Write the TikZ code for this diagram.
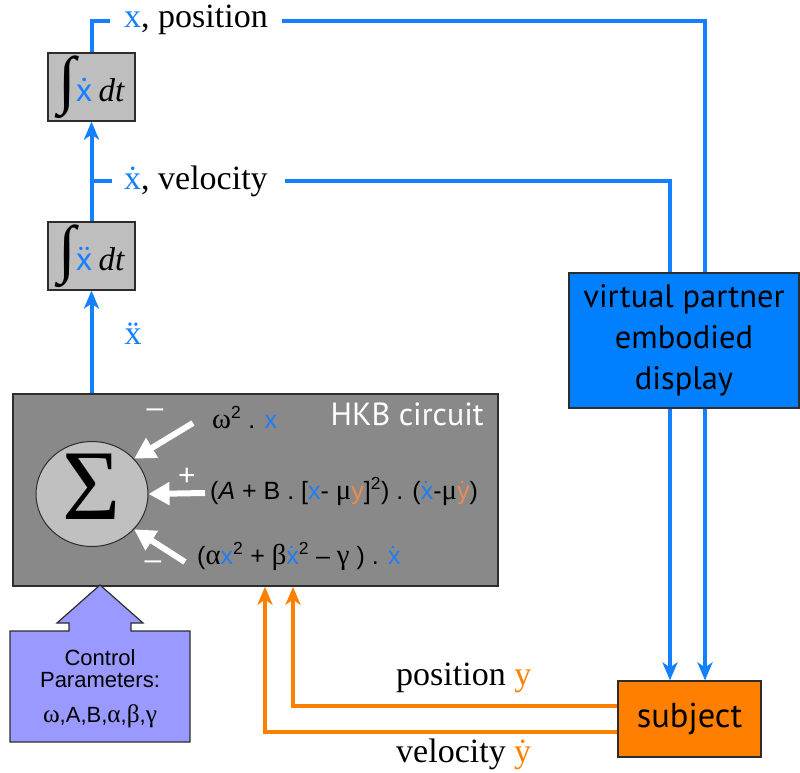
\documentclass[tikz,border=0pt]{standalone}
\usepackage{fontspec}
\setmainfont{Liberation Serif}
\newfontfamily\myriadlike{PT Sans}
\newfontfamily\arialike{Liberation Sans}
\usetikzlibrary{arrows.meta,shapes.geometric}

\definecolor{flowblue}{RGB}{20,128,255}
\definecolor{vpblue}{RGB}{0,128,255}
\definecolor{flowor}{RGB}{255,128,0}
\definecolor{yor}{RGB}{236,140,80}
\definecolor{xblue}{RGB}{30,125,245}
\definecolor{hkbgray}{RGB}{137,137,137}
\definecolor{intgray}{RGB}{190,190,190}
\definecolor{sumgray}{RGB}{192,192,192}
\definecolor{ctrlblue}{RGB}{153,153,255}
\definecolor{edgegray}{RGB}{45,45,45}

% letters with a dot / two dots on top
\newcommand\overdot[1]{\ooalign{#1\cr\hidewidth˙\hidewidth\cr}}
\newcommand\overddot[1]{\ooalign{#1\cr\hidewidth¨\hidewidth\cr}}
% Greek letters in a slightly larger serif face
\newcommand\gk[1]{{\rmfamily\scalebox{1.15}{#1}}}
\newcommand\intsym{{\fontsize{64}{64}\selectfont ∫}}

\tikzset{
  flow/.style={draw=flowblue, line width=4pt},
  flowarrow/.style={flow, -{Stealth[length=18pt,width=15pt,inset=5pt]}},
  oflow/.style={draw=flowor, line width=4pt, -{Stealth[length=18pt,width=15pt,inset=5pt]}},
  whitearrow/.style={draw=white, line width=6pt, -{Triangle[length=21pt,width=22pt]}},
  intbox/.style={draw=edgegray, fill=intgray, line width=1.2pt,
    minimum width=87pt, minimum height=68pt, inner sep=0pt,
    font=\fontsize{33}{33}\selectfont},
  serifl/.style={anchor=base west, inner sep=0pt, font=\fontsize{34}{34}\selectfont},
  exprt/.style={anchor=base west, inner sep=0pt, font=\arialike\fontsize{25}{25}\selectfont},
  signt/.style={inner sep=0pt, text=white, font=\arialike\fontsize{30}{30}\selectfont},
  ctrlt/.style={anchor=base, inner sep=0pt, font=\arialike\fontsize{22}{22}\selectfont},
}

\begin{document}
\begin{tikzpicture}[x=1pt,y=-1pt]
\useasboundingbox (0,0) rectangle (800,773);

% integrators
\node[intbox] (int1) at (91.5,87) {\intsym\textcolor{flowblue}{\myriadlike\overdot{x}}\hspace{6pt}\textit{dt}};
\node[intbox] (int2) at (91.5,256) {\intsym\textcolor{flowblue}{\myriadlike\overddot{x}}\hspace{6pt}\textit{dt}};

% HKB circuit
\node[draw=edgegray, fill=hkbgray, line width=1.5pt, minimum width=485pt,
      minimum height=192pt, inner sep=0pt] (hkb) at (255.5,490) {};
\node[anchor=base east, inner sep=0pt, text=white,
      font=\myriadlike\fontsize{32}{32}\selectfont] (hkblbl) at (484,425) {HKB circuit};
\node[ellipse, draw=edgegray, fill=sumgray, line width=1pt, minimum width=112pt,
      minimum height=105pt, inner sep=0pt] (sum) at (92,494) {};
\node[inner sep=0pt, font=\rmfamily\fontsize{100}{100}\selectfont] (sumlbl) at (92,487) {Σ};

\node[exprt] (e1) at (212,428) {\gk{ω}\textsuperscript{2} . \textcolor{xblue}{x}};
\node[exprt] (e2) at (210,499) {(\textit{A} + B . [\textcolor{xblue}{x}- \gk{μ}\textcolor{yor}{y}]\textsuperscript{2}) . (\textcolor{xblue}{\overdot{x}}-\gk{μ}\textcolor{yor}{\overdot{y}})};
\node[exprt] (e3) at (197,564) {(\gk{α}\textcolor{xblue}{x}\textsuperscript{2} + \gk{β}\textcolor{xblue}{\overdot{x}}\textsuperscript{2} – \gk{γ} ) . \textcolor{xblue}{\overdot{x}}};

\coordinate (w1) at (193,423);
\coordinate (w2) at (205,493);
\coordinate (w3) at (185,562);
\draw[whitearrow] (w1) -- (sum.40);
\draw[whitearrow] (w2) -- (sum.east);
\draw[whitearrow] (w3) -- (sum.-40);
\node[signt] (sgn1) at (155,413) {–};
\node[signt] (sgn2) at (187,477) {+};
\node[signt] (sgn3) at (153,565) {–};

% control parameters
\path[draw=edgegray, fill=ctrlblue, line width=1.2pt]
  (10,742) -- (10,631) -- (69,631) -- (69,623) -- (57,623) -- (100,585)
  -- (143,623) -- (131,623) -- (131,631) -- (190,631) -- (190,742) -- cycle;
\node[ctrlt] (ctrl1) at (100,665) {Control};
\node[ctrlt] (ctrl2) at (100,687) {Parameters:};
\node[ctrlt] (ctrl3) at (100,722) {\gk{ω},A,B,\gk{α},\gk{β},\gk{γ}};

% virtual partner and subject
\node[draw=edgegray, fill=vpblue, line width=1.2pt, minimum width=230pt,
      minimum height=135pt, inner sep=0pt, align=center,
      font=\myriadlike\fontsize{32.5}{41}\selectfont] (vp) at (684,340.5)
      {virtual partner\\embodied\\display};
\node[draw=edgegray, fill=flowor, line width=1.2pt, minimum width=143pt,
      minimum height=76pt, inner sep=0pt,
      font=\myriadlike\fontsize{34.5}{34.5}\selectfont] (subj) at (689.5,719) {subject};

% labels
\node[serifl] (poslbl) at (124,28) {\textcolor{flowblue}{x}, position};
\node[serifl] (vellbl) at (124,189) {\textcolor{flowblue}{\overdot{x}}, velocity};
\node[inner sep=0pt, font=\fontsize{34}{34}\selectfont, text=flowblue] (acclbl) at (133,337) {\overddot{x}};
\node[serifl] (ylbl) at (396,685) {position \textcolor{flowor}{y}};
\node[serifl] (ydlbl) at (396,762) {velocity \textcolor{flowor}{\overdot{y}}};

% blue signal paths
\coordinate (xin) at (705,0);
\coordinate (vin) at (670,0);
\coordinate (posstub) at (110,21);
\coordinate (posfrom) at (282,21);
\coordinate (velstub) at (112,181);
\coordinate (velfrom) at (285,181);
\draw[flowarrow] (int2.south |- hkb.north) -- (int2.south);
\draw[flowarrow] (int2.north) -- (int1.south);
\draw[flow] (int1.north) |- (posstub);
\draw[flow] (int1.south |- velstub) -- (velstub);
\draw[flow] (posfrom) -| (vp.north -| xin);
\draw[flow] (velfrom) -| (vp.north -| vin);
\draw[flowarrow] (vp.south -| xin) -- (subj.north -| xin);
\draw[flowarrow] (vp.south -| vin) -- (subj.north -| vin);

% orange feedback paths
\coordinate (ypos) at (293,0);
\coordinate (yvel) at (265,0);
\draw[oflow] ([yshift=13pt]subj.west) -| (hkb.south -| ypos);
\draw[oflow] ([yshift=-13pt]subj.west) -| (hkb.south -| yvel);
\end{tikzpicture}
\end{document}
